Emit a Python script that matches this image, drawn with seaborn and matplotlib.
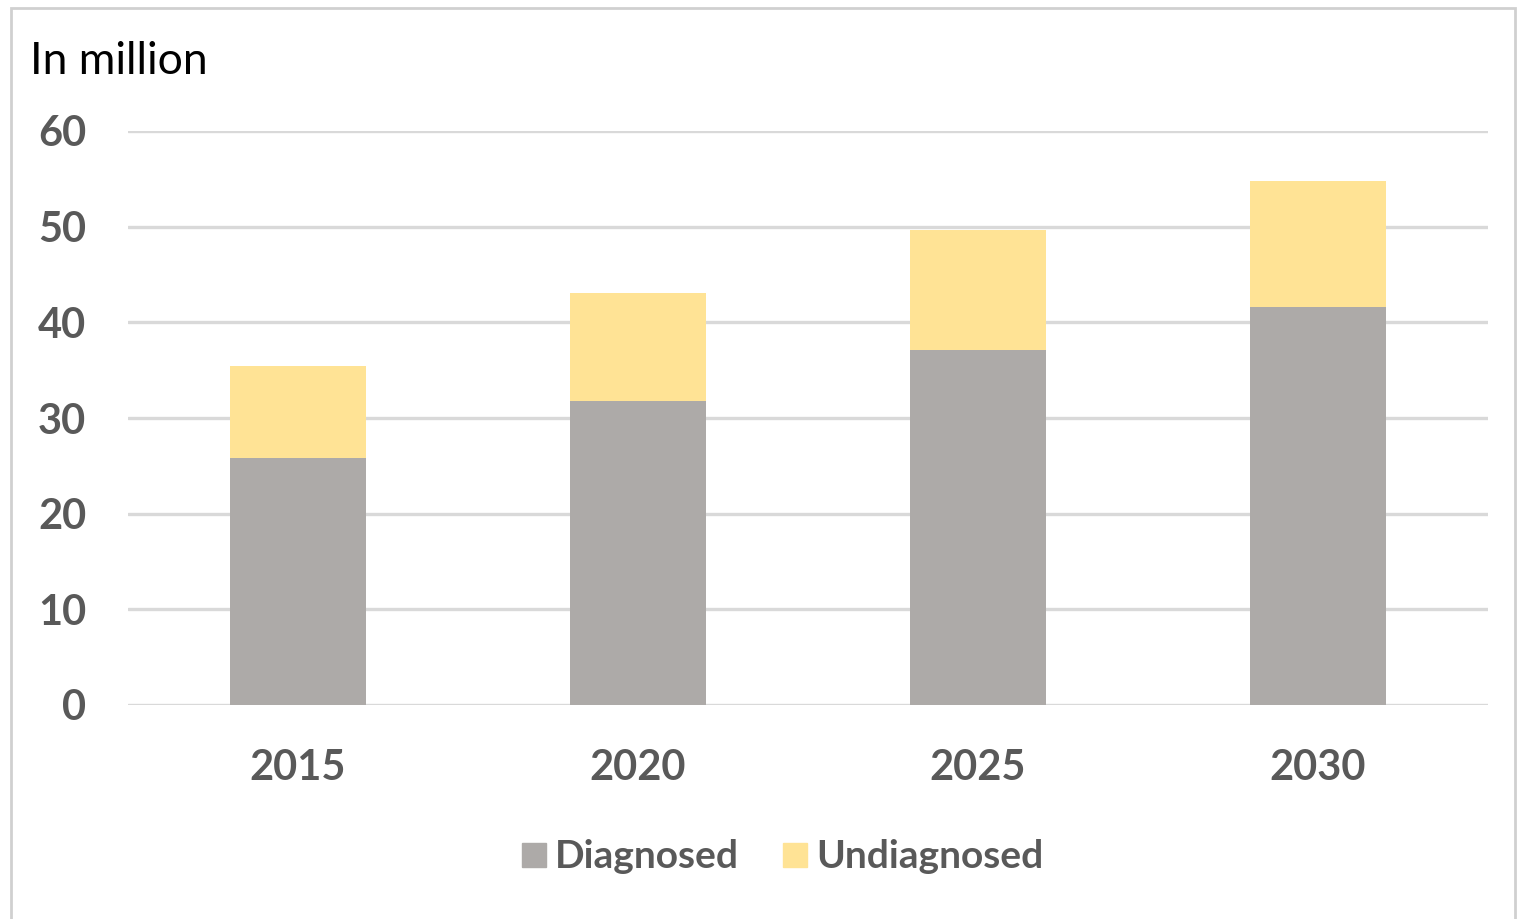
import matplotlib
matplotlib.use("Agg")
import matplotlib.pyplot as plt
from matplotlib.patches import Rectangle
from matplotlib.lines import Line2D
import seaborn as sns
import pandas as pd

# Patients with the condition, in million
years = ["2015", "2020", "2025", "2030"]
diagnosed = [25.8, 31.8, 37.1, 41.6]
undiagnosed = [9.6, 11.3, 12.5, 13.2]
yticks = [0, 10, 20, 30, 40, 50, 60]

GRAY = "#ADAAA8"
YELLOW = "#FFE395"
TEXT = "#595959"

sns.set_theme(style="white")
plt.rcParams["font.family"] = ["Lato", "DejaVu Sans"]

df = pd.DataFrame({"year": years, "diagnosed": diagnosed, "undiagnosed": undiagnosed})
df["total"] = df["diagnosed"] + df["undiagnosed"]

fig = plt.figure(figsize=(15.18, 9.19), dpi=100)
ax = fig.add_axes([128 / 1518, 1 - 705 / 919, (1488 - 128) / 1518, (705 - 131) / 919])

# outer chart frame
fig.patches.append(Rectangle((11 / 1518, -0.01), (1515 - 11) / 1518, 1 - 8 / 919 + 0.01,
                             transform=fig.transFigure, fill=False,
                             edgecolor="#D0D0D0", linewidth=2))

# stacked bars: totals first, diagnosed segment on top of them
sns.barplot(data=df, x="year", y="total", color=YELLOW, width=0.4,
            saturation=1, ax=ax, zorder=3, linewidth=0)
sns.barplot(data=df, x="year", y="diagnosed", color=GRAY, width=0.4,
            saturation=1, ax=ax, zorder=3, linewidth=0)

ax.set_ylim(0, 60)
ax.set_xlim(-0.5, 3.5)
ax.set_yticks(yticks)
ax.yaxis.grid(True, color="#D9D9D9", linewidth=2.4, zorder=0)
ax.set_axisbelow(True)
for s in ax.spines.values():
    s.set_visible(False)
ax.set_xlabel("")
ax.set_ylabel("")
ax.tick_params(axis="y", length=0, pad=30, labelsize=30, labelcolor=TEXT)
ax.tick_params(axis="x", length=0, pad=32, labelsize=30, labelcolor=TEXT)
for lab in ax.get_xticklabels() + ax.get_yticklabels():
    lab.set_fontweight("bold")

fig.text(30 / 1518, 1 - 62 / 919, "In million", fontsize=32, color="black",
         va="center", ha="left")

handles = [Line2D([], [], marker="s", linestyle="", markersize=17,
                  markerfacecolor=GRAY, markeredgecolor=GRAY),
           Line2D([], [], marker="s", linestyle="", markersize=17,
                  markerfacecolor=YELLOW, markeredgecolor=YELLOW)]
leg = fig.legend(handles, ["Diagnosed", "Undiagnosed"], loc="center",
                 bbox_to_anchor=(779 / 1518, 1 - 857 / 919), ncol=2, frameon=False,
                 prop={"size": 28, "weight": "bold"}, handletextpad=0.05,
                 columnspacing=0.95, handlelength=1.0)
for t in leg.get_texts():
    t.set_color(TEXT)

fig.savefig("out.png", dpi=100)
